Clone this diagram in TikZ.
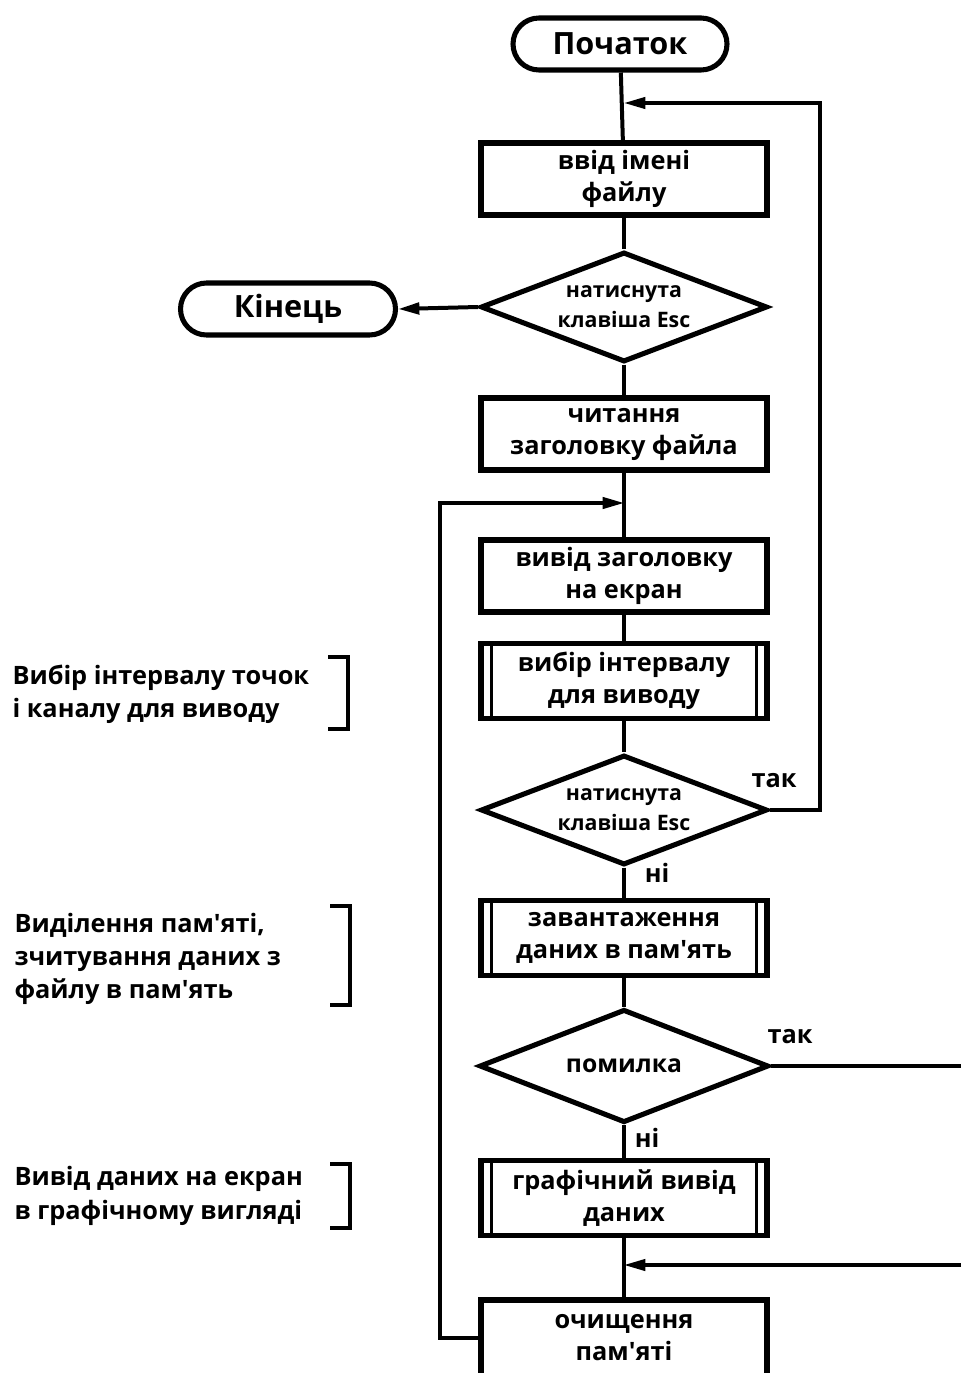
\documentclass[tikz,border=0pt]{standalone}
\usepackage{fontspec}
\setmainfont{Open Sans}
\usetikzlibrary{shapes.geometric,arrows.meta}

\tikzset{every picture/.style={line width=0.75pt}}
\tikzset{
	block/.style={draw, rectangle, line width=3.8pt, minimum width=214.5pt, minimum height=54pt, inner sep=0pt, align=center, font=\bfseries\fontsize{19}{24}\selectfont},
	subproc/.style={block, minimum height=56pt},
	decide/.style={draw, diamond, aspect=2.6, line width=3.8pt, minimum width=215pt, minimum height=82.5pt, inner sep=0pt, align=center, font=\bfseries\fontsize{16}{22.5}\selectfont},
	term/.style={draw, rectangle, rounded corners=19.5pt, line width=3.8pt, minimum width=160.5pt, minimum height=39pt, font=\bfseries\fontsize{23}{26}\selectfont},
	flow/.style={line width=3pt},
	back/.style={line width=2.4pt},
	tip/.style={-{Triangle[length=16pt,width=8.5pt]}},
	note/.style={anchor=west, align=left, inner sep=0pt, font=\bfseries\fontsize{19}{25}\selectfont},
	lbl/.style={inner sep=0pt, font=\bfseries\fontsize{19}{20}\selectfont},
	brace/.style={line width=2.4pt}
}

\begin{document}
\begin{tikzpicture}[x=0.75pt,y=0.75pt,yscale=-1]
	\useasboundingbox (0,0) rectangle (961,1373);

	%Terminals
	\node [term] (start) at (620,44) {Початок};
	\node [term, minimum width=161.25pt] (stop) at (288,309) {Кінець};

	%Main column
	\node [block] (fname) at (624,179) {ввід імені\\файлу};
	\node [decide] (esc1) at (624,307) {натиснута\\клавіша Esc};
	\node [block] (readhdr) at (624,434) {читання\\заголовку файла};
	\node [block] (showhdr) at (624,576) {вивід заголовку\\на екран};
	\node [subproc] (pick) at (624,681) {вибір інтервалу\\для виводу};
	\node [decide] (esc2) at (624,810) {натиснута\\клавіша Esc};
	\node [subproc] (load) at (624,938) {завантаження\\даних в пам\textquotesingle ять};
	\node [decide, minimum width=217pt, minimum height=85pt, font=\bfseries\fontsize{18.5}{22}\selectfont] (err) at (624,1066) {помилка};
	\node [subproc] (plot) at (624,1198) {графічний вивід\\даних};
	\node [block, minimum height=57pt] (clear) at (624,1338) {очищення\\пам\textquotesingle яті};

	%inner bars of the subprocess boxes
	\foreach \n in {pick,load,plot} {
		\draw [line width=2.4pt] ([xshift=10pt]\n.north west) -- ([xshift=10pt]\n.south west);
		\draw [line width=2.4pt] ([xshift=-10pt]\n.north east) -- ([xshift=-10pt]\n.south east);
	}

	%Joins
	\coordinate (topjoin) at (624,103);
	\coordinate (rtop) at (820,103);
	\coordinate (midjoin) at (624,503);
	\coordinate (lmid) at (440,503);
	\coordinate (errout) at (961,1066);
	\coordinate (errin) at (961,1265);
	\coordinate (lowjoin) at (624,1265);

	%Straight Lines
	\draw [flow] (start) -- (fname);
	\draw [flow] (fname) -- (esc1);
	\draw [flow] (esc1) -- (readhdr);
	\draw [flow] (readhdr) -- (showhdr);
	\draw [flow] (showhdr) -- (pick);
	\draw [flow] (pick) -- (esc2);
	\draw [flow] (esc2) -- (load);
	\draw [flow] (load) -- (err);
	\draw [flow] (err) -- (plot);
	\draw [flow] (plot) -- (clear);
	\draw [flow, tip] (esc1.west) -- (stop.east);

	%Loops
	\draw [back, tip] (esc2.east) -| (rtop) -- (topjoin);
	\draw [back, tip] (clear.west) -| (lmid) -- (midjoin);
	\draw [back] (err.east) -- (errout);
	\draw [back, tip] (errin) -- (lowjoin);

	% Text Node
	\node [lbl] (yes1) at (774,781) {так};
	\node [lbl] (no1) at (657,873) {ні};
	\node [lbl] (yes2) at (790,1037) {так};
	\node [lbl] (no2) at (647,1138) {ні};

	%Side notes
	\node [note] (note1) at (12,694) {Вибір інтервалу точок\\і каналу для виводу};
	\draw [brace] (328,657) -- (348,657) -- (348,729) -- (328,729);
	\node [note] (note2) at (14,959) {Виділення пам\textquotesingle яті,\\зчитування даних з\\файлу в пам\textquotesingle ять};
	\draw [brace] (330,906) -- (350,906) -- (350,1005) -- (330,1005);
	\node [note] (note3) at (14,1196) {Вивід даних на екран\\в графічному вигляді};
	\draw [brace] (330,1164) -- (350,1164) -- (350,1228) -- (330,1228);

\end{tikzpicture}
\end{document}
